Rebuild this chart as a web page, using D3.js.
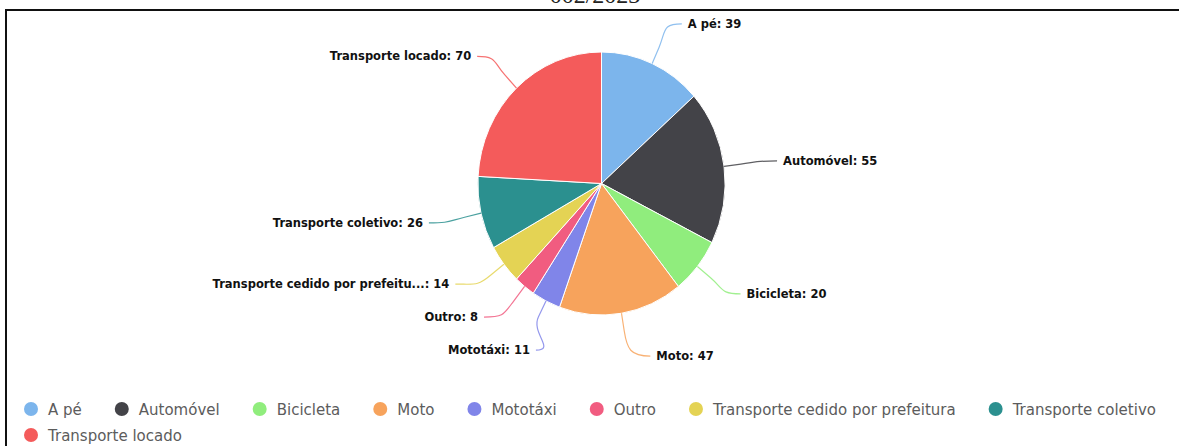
<!DOCTYPE html>
<html>
<head>
<meta charset="utf-8">
<script src="https://cdn.jsdelivr.net/npm/d3@7"></script>
<style>
  body { margin: 0; background: #fff; }
</style>
</head>
<body>
<div id="chart"></div>
<script>
// data
const categories = ["A pé", "Automóvel", "Bicicleta", "Moto", "Mototáxi", "Outro", "Transporte cedido por prefeitura", "Transporte coletivo", "Transporte locado"];
const values = [39, 55, 20, 47, 11, 8, 14, 26, 70];
const labelNames = ["A pé", "Automóvel", "Bicicleta", "Moto", "Mototáxi", "Outro", "Transporte cedido por prefeitu...", "Transporte coletivo", "Transporte locado"];
const colors = ["#7cb5ec", "#434348", "#90ed7d", "#f7a35c", "#8085e9", "#f15c80", "#e4d354", "#2b908f", "#f45b5b"];
const titleText = "002/2023";

const width = 1179, height = 446;
const cx = 601.5, cy = 183.5;
const radius = 131.5;
const sx = 0.94; // the picture is a bit narrower than tall

const svg = d3.select("#chart")
    .append("svg")
    .attr("width", width)
    .attr("height", height)
    .style("font-family", "'DejaVu Sans', sans-serif");

// frame lines (top and left only)
svg.append("line").attr("x1", 5).attr("x2", width).attr("y1", 10).attr("y2", 10)
    .attr("stroke", "#111").attr("stroke-width", 2);
svg.append("line").attr("x1", 6).attr("x2", 6).attr("y1", 9).attr("y2", height)
    .attr("stroke", "#111").attr("stroke-width", 2);

// cut off title
svg.append("text")
    .attr("x", 595).attr("y", 3)
    .attr("text-anchor", "middle")
    .style("font-family", "'Liberation Serif', serif")
    .style("font-size", "24px")
    .attr("fill", "#222")
    .text(titleText);

const pie = d3.pie().sort(null).value(d => d)(values);
const arc = d3.arc().innerRadius(0).outerRadius(radius);

const slices = svg.append("g")
    .attr("transform", `translate(${cx},${cy}) scale(${sx},1)`);

slices.selectAll("path")
    .data(pie)
    .join("path")
    .attr("d", arc)
    .attr("fill", (d, i) => colors[i])
    .attr("stroke", "#fff")
    .attr("stroke-width", 1)
    .attr("vector-effect", "non-scaling-stroke");

// data labels, placed like highcharts does (left / right halves, pushed apart)
const labelR = 175, ellX = 183, ellY = 181, gap = 33;
const labels = pie.map((d, i) => {
    const a = (d.startAngle + d.endAngle) / 2;
    return {i, a, side: a < Math.PI ? 1 : -1, y: cy - labelR * Math.cos(a)};
});

[1, -1].forEach(s => {
    const list = labels.filter(d => d.side === s).sort((p, q) => p.y - q.y);
    let clusters = list.map(d => ({items: [d]}));
    const top = c => d3.mean(c.items, (d, j) => d.y - j * gap);
    let merged = true;
    while (merged) {
        merged = false;
        for (let k = 0; k < clusters.length - 1; k++) {
            const c = clusters[k], n = clusters[k + 1];
            if (top(n) < top(c) + c.items.length * gap) {
                clusters.splice(k, 2, {items: c.items.concat(n.items)});
                merged = true;
                break;
            }
        }
    }
    clusters.forEach(c => {
        const t = top(c);
        c.items.forEach((d, j) => d.fy = t + j * gap);
    });
});

labels.forEach(d => {
    const t = Math.max(-1, Math.min(1, (d.fy - cy) / ellY));
    d.x = cx + d.side * ellX * Math.sqrt(1 - t * t);
    d.edge = [cx + sx * radius * Math.sin(d.a), cy - radius * Math.cos(d.a)];
    d.brk = [cx + sx * (radius + 18) * Math.sin(d.a), cy - (radius + 18) * Math.cos(d.a)];
});

svg.append("g").selectAll("path")
    .data(labels)
    .join("path")
    .attr("fill", "none")
    .attr("stroke", d => colors[d.i])
    .attr("stroke-width", 1.2)
    .attr("stroke-opacity", 0.85)
    .attr("d", d => {
        const x0 = d.x - d.side * 6, y0 = d.fy;
        const c2 = [2 * d.brk[0] - d.edge[0], 2 * d.brk[1] - d.edge[1]];
        return `M${x0},${y0} C${x0 - d.side * 20},${y0} ${c2[0]},${c2[1]} ${d.brk[0]},${d.brk[1]} L${d.edge[0]},${d.edge[1]}`;
    });

svg.append("g").selectAll("text")
    .data(labels)
    .join("text")
    .attr("x", d => d.x)
    .attr("y", d => d.fy)
    .attr("dy", "0.35em")
    .attr("text-anchor", d => d.side > 0 ? "start" : "end")
    .style("font-size", "11.5px")
    .style("font-weight", "bold")
    .attr("fill", "#111")
    .text(d => `${labelNames[d.i]}: ${values[d.i]}`);

// legend
const legend = svg.append("g");
let lx = 31, ly = 409;
categories.forEach((c, i) => {
    const item = legend.append("g");
    const t = item.append("text")
        .attr("x", 17).attr("y", 5.5)
        .style("font-size", "15px")
        .attr("fill", "#5c5c5c")
        .text(c);
    const w = t.node().getComputedTextLength();
    if (lx + 17 + w > width - 3) { lx = 31; ly += 26; }
    item.attr("transform", `translate(${lx},${ly})`);
    item.append("circle").attr("r", 7).attr("fill", colors[i]);
    lx += 17 + w + 40;
});
</script>
</body>
</html>
